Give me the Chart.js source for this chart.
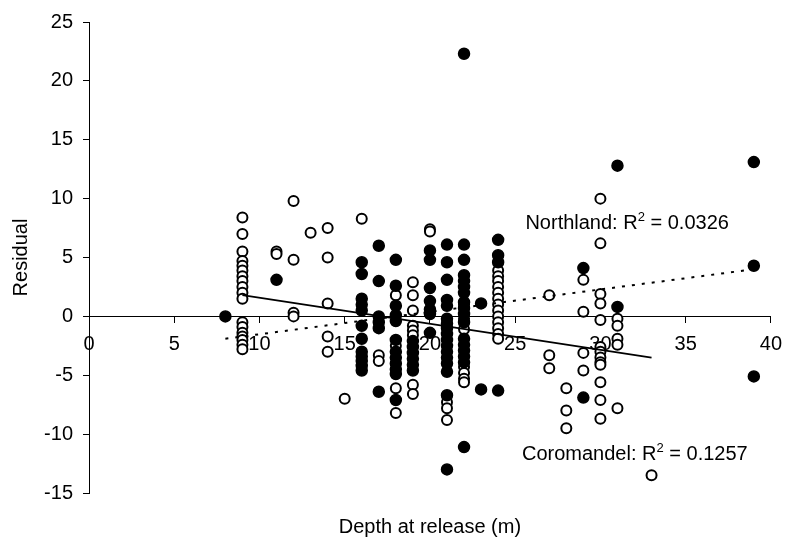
<!DOCTYPE html>
<html>
<head>
<meta charset="utf-8">
<script src="https://cdn.jsdelivr.net/npm/chart.js@4.4.1/dist/chart.umd.min.js"></script>
<style>
  html, body { margin: 0; padding: 0; background: #fff; }
  #wrap { width: 792px; height: 541px; }
</style>
</head>
<body>
<div id="wrap"><canvas id="chart"></canvas></div>
<script>
// Coromandel (open circles): depth columns and the residuals read in each column
const coromandelDepths = [9, 11, 12, 13, 14, 15, 16, 17, 18, 19, 20, 21, 22, 24, 27, 28, 29, 30, 31, 33];
const coromandelResiduals = [
  [8.4, 7.0, 5.5, 4.7, 4.3, 3.9, 3.4, 3.0, 2.5, 2.0, 1.5, -0.5, -0.9, -1.4, -1.7, -2.0, -2.4, -2.8],
  [5.5, 5.3],
  [9.8, 4.8, 0.3, 0.0],
  [7.1],
  [7.5, 5.0, 1.1, -1.7, -3.0],
  [-7.0],
  [8.3],
  [-3.3, -3.8],
  [1.8, -2.5, -6.1, -8.2],
  [2.9, 1.8, 0.5, -0.8, -1.2, -1.6, -5.8, -6.6],
  [7.4, 7.2],
  [-7.3, -7.8, -8.8],
  [1.0, -0.2, -1.1, -4.3, -4.8, -5.3, -5.6],
  [3.9, 3.4, 3.0, 2.5, 2.0, 1.5, 1.0, 0.5, 0.0, -0.5, -1.0, -1.5, -1.9],
  [1.8, -3.3, -4.4],
  [-6.1, -8.0, -9.5],
  [3.1, 0.4, -3.1, -4.6],
  [10.0, 6.2, 1.9, 1.1, -0.3, -2.6, -3.0, -3.5, -3.9, -4.1, -5.6, -7.1, -8.7],
  [-0.2, -0.8, -1.9, -2.4, -7.8],
  [-13.5]
];

// Northland (filled circles)
const northlandDepths = [8, 11, 16, 17, 18, 19, 20, 21, 22, 23, 24, 29, 31, 39];
const northlandResiduals = [
  [0.0],
  [3.1],
  [4.6, 3.6, 1.5, 1.0, 0.5, -0.8, -1.9, -3.0, -3.4, -3.8, -4.2, -4.6],
  [6.0, 3.0, 0.0, -0.5, -1.0, -6.4],
  [4.8, 2.6, 0.9, 0.1, -0.4, -2.0, -3.0, -3.5, -4.0, -4.5, -4.9, -7.1],
  [-2.1, -2.6, -3.1, -3.6, -4.1, -4.6],
  [5.6, 4.8, 2.4, 1.3, 0.6, 0.2, -1.4],
  [6.1, 4.6, 3.1, 1.4, 0.9, -0.2, -0.6, -1.0, -1.5, -2.0, -2.5, -3.0, -3.5, -4.0, -4.7, -6.7, -13.0],
  [22.3, 6.1, 4.8, 3.5, 3.0, 2.5, 2.0, 1.2, 0.7, 0.2, -0.5, -1.9, -2.4, -2.9, -3.4, -3.9, -11.1],
  [1.1, -6.2],
  [6.5, 5.2, 4.6, -6.3],
  [4.1, -6.9],
  [12.8, 0.8],
  [13.1, 4.3, -5.1]
];

// fitted lines (end points)
const coromandelFitX = [9, 33];
const coromandelFitY = [1.8, -3.5];
const northlandFitX = [8, 39];
const northlandFitY = [-1.9, 4.0];

const northlandR2 = '0.0326';
const coromandelR2 = '0.1257';

const xTicks = [0, 5, 10, 15, 20, 25, 30, 35, 40];
const yTicks = [-15, -10, -5, 0, 5, 10, 15, 20, 25];

function toPoints(depths, residuals) {
  const pts = [];
  depths.forEach((d, i) => residuals[i].forEach(r => pts.push({ x: d, y: r })));
  return pts;
}
function toLine(xs, ys) {
  return xs.map((x, i) => ({ x: x, y: ys[i] }));
}

const FONT = '"Liberation Sans", Arial, sans-serif';
Chart.defaults.font.family = FONT;
Chart.defaults.font.size = 20;
Chart.defaults.color = '#000';

// draws the two R² labels with a raised "2"
const r2Labels = {
  id: 'r2Labels',
  afterDatasetsDraw(chart, args, opts) {
    const ctx = chart.ctx;
    const xs = chart.scales.x, ys = chart.scales.y;
    ctx.save();
    ctx.fillStyle = '#000';
    ctx.textBaseline = 'alphabetic';
    opts.items.forEach(it => {
      let px = xs.getPixelForValue(it.x);
      const py = ys.getPixelForValue(it.y);
      ctx.font = '20px ' + FONT;
      ctx.fillText(it.name + ': R', px, py);
      px += ctx.measureText(it.name + ': R').width;
      ctx.font = '13px ' + FONT;
      ctx.fillText('2', px, py - 8);
      px += ctx.measureText('2').width;
      ctx.font = '20px ' + FONT;
      ctx.fillText(' = ' + it.value, px, py);
    });
    ctx.restore();
  }
};

const chart = new Chart(document.getElementById('chart'), {
  type: 'scatter',
  data: {
    datasets: [
      {
        label: 'Coromandel fit',
        type: 'line',
        data: toLine(coromandelFitX, coromandelFitY),
        borderColor: '#000',
        borderWidth: 1.8,
        pointRadius: 0,
        fill: false,
        order: 0
      },
      {
        label: 'Northland fit',
        type: 'line',
        data: toLine(northlandFitX, northlandFitY),
        borderColor: '#000',
        borderWidth: 2,
        borderDash: [3, 7],
        pointRadius: 0,
        fill: false,
        order: 0
      },
      {
        label: 'Northland',
        data: toPoints(northlandDepths, northlandResiduals),
        backgroundColor: '#000',
        borderColor: '#000',
        borderWidth: 1.5,
        pointRadius: 5.5,
        order: 1
      },
      {
        label: 'Coromandel',
        data: toPoints(coromandelDepths, coromandelResiduals),
        backgroundColor: '#fff',
        borderColor: '#000',
        borderWidth: 2,
        pointRadius: 5,
        order: 2
      }
    ]
  },
  options: {
    responsive: true,
    maintainAspectRatio: false,
    animation: false,
    layout: { padding: { left: 0, right: 12, top: 17, bottom: 0 } },
    plugins: {
      legend: { display: false },
      tooltip: { enabled: false },
      title: {
        display: true,
        position: 'bottom',
        fullSize: false,
        text: 'Depth at release (m)',
        font: { size: 20, weight: 'normal' },
        padding: { top: 22, bottom: 2 }
      },
      r2Labels: {
        items: [
          { name: 'Northland', value: northlandR2, x: 25.6, y: 7.4 },
          { name: 'Coromandel', value: coromandelR2, x: 25.4, y: -12.2 }
        ]
      }
    },
    scales: {
      x: {
        type: 'linear',
        position: { y: 0 },
        min: 0,
        max: 40,
        afterBuildTicks: s => { s.ticks = xTicks.map(v => ({ value: v })); },
        ticks: { padding: 10, maxRotation: 0, autoSkip: false },
        grid: { drawOnChartArea: false, drawTicks: true, tickLength: 6, color: '#000' },
        border: { color: '#000', width: 1 }
      },
      y: {
        type: 'linear',
        position: 'left',
        min: -15,
        max: 25,
        afterBuildTicks: s => { s.ticks = yTicks.map(v => ({ value: v })); },
        afterFit: s => { s.width = 89; },
        ticks: { padding: 10, autoSkip: false },
        grid: { drawOnChartArea: false, drawTicks: true, tickLength: 6, color: '#000' },
        border: { color: '#000', width: 1 },
        title: { display: true, text: 'Residual', font: { size: 20 }, padding: { top: 9, bottom: 0 } }
      }
    }
  },
  plugins: [r2Labels]
});
</script>
</body>
</html>
